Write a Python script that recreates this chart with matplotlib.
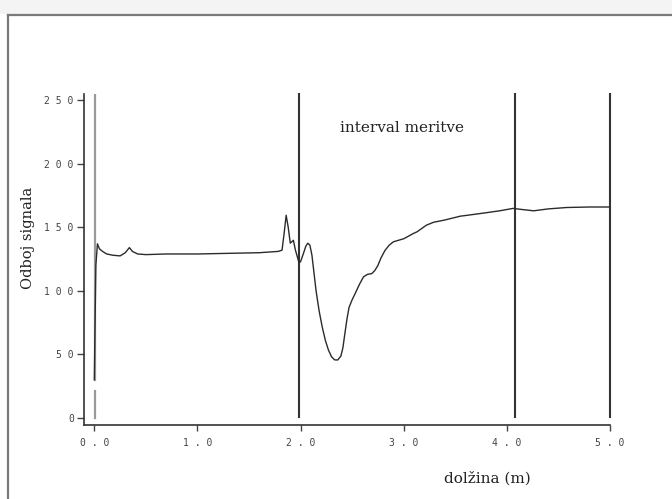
import matplotlib.pyplot as plt
from matplotlib.patches import Rectangle
from matplotlib.lines import Line2D

# signal reflection along the cable
dolzina = [0.00, 0.005, 0.015, 0.03, 0.05, 0.08, 0.12, 0.18, 0.25, 0.30, 0.34, 0.37,
           0.42, 0.50, 0.70, 1.00, 1.30, 1.60, 1.78, 1.82, 1.84, 1.86, 1.88, 1.90,
           1.93, 1.95, 1.985, 2.00, 2.03, 2.05, 2.07, 2.09, 2.11, 2.13, 2.15, 2.18,
           2.21, 2.24, 2.27, 2.30, 2.33, 2.36, 2.39, 2.41, 2.43, 2.45, 2.47, 2.50,
           2.53, 2.57, 2.61, 2.65, 2.69, 2.72, 2.75, 2.78, 2.82, 2.86, 2.90, 3.00,
           3.09, 3.13, 3.22, 3.29, 3.39, 3.55, 3.61, 3.80, 3.93, 4.06, 4.15, 4.26,
           4.40, 4.58, 4.80, 5.00]
odboj = [30, 63, 120, 137, 133, 131, 129, 128, 127.5, 130, 134, 131,
         129, 128.5, 129, 129, 129.5, 130, 131, 132, 145, 159.5, 150, 137.5,
         139.8, 132, 122, 123, 130, 135, 137.5, 136, 128, 114, 100, 84,
         71.4, 61, 53.3, 48, 45.6, 45.5, 48.5, 55, 66.7, 78, 87, 93,
         98, 105, 111, 113, 113.5, 116, 120, 126, 132, 136, 138.6, 141,
         145, 146.5, 151.7, 154, 155.6, 158.8, 159.4, 161.5, 163, 164.9, 164, 163,
         164.5, 165.6, 166, 166]

# marker lines: start, measurement interval, end
markers = [1.98, 4.08, 5.0]
x_ticks = [0, 1, 2, 3, 4, 5]
x_labels = ['0 . 0', '1 . 0', '2 . 0', '3 . 0', '4 . 0', '5 . 0']
y_ticks = [0, 50, 100, 150, 200, 250]
y_labels = ['0', '5 0', '1 0 0', '1 5 0', '2 0 0', '2 5 0']

fig = plt.figure(figsize=(6.72, 4.99), dpi=100)

# window-like frame around the plot
fig.patches.append(Rectangle((0, 1 - 14 / 499), 1, 14 / 499, transform=fig.transFigure,
                             facecolor='#f4f4f4', edgecolor='none'))
fig.lines.append(Line2D([8 / 672, 1], [1 - 15 / 499] * 2, transform=fig.transFigure,
                        color='#7a7a7a', lw=1.6))
fig.lines.append(Line2D([8 / 672] * 2, [0, 1 - 15 / 499], transform=fig.transFigure,
                        color='#7a7a7a', lw=1.6))

ax = fig.add_axes([83.5 / 672, 74 / 499, 526.5 / 672, 331 / 499])
ax.set_xlim(-0.105, 5.0)
ax.set_ylim(-5.7, 255)

# start marker at 0.0, partly hidden near the bottom
ax.plot([0.005, 0.005], [30, 255], color='#9a9a9a', lw=1.6)
ax.plot([0.005, 0.005], [0, 21], color='#9a9a9a', lw=1.6)
for m in markers:
    ax.axvline(m, ymin=0.025, ymax=1.0, color='#333333', lw=1.5, clip_on=False)

ax.plot(dolzina, odboj, color='#2b2b2b', lw=1.0)

ax.text(2.98, 228, 'interval meritve', family='DejaVu Serif', fontsize=11,
        ha='center', va='center', color='#222222')

for side in ['top', 'right']:
    ax.spines[side].set_visible(False)
for side in ['left', 'bottom']:
    ax.spines[side].set_color('#333333')
    ax.spines[side].set_linewidth(1.2)

ax.set_xticks(x_ticks)
ax.set_xticklabels(x_labels, family='DejaVu Sans Mono', fontsize=7, color='#444444')
ax.set_yticks(y_ticks)
ax.set_yticklabels(y_labels, family='DejaVu Sans Mono', fontsize=7, color='#444444')
ax.tick_params(axis='x', length=4, width=1, color='#444444', pad=5)
ax.tick_params(axis='y', length=5, width=1, color='#444444', pad=2)

ax.set_ylabel('Odboj signala', family='DejaVu Serif', fontsize=10.5, color='#222222')
ax.yaxis.set_label_coords(-0.092, 0.565)
ax.set_xlabel('dolžina (m)', family='DejaVu Serif', fontsize=11, color='#222222')
ax.xaxis.set_label_coords(0.768, -0.139)

fig.savefig('out.png', dpi=100)
